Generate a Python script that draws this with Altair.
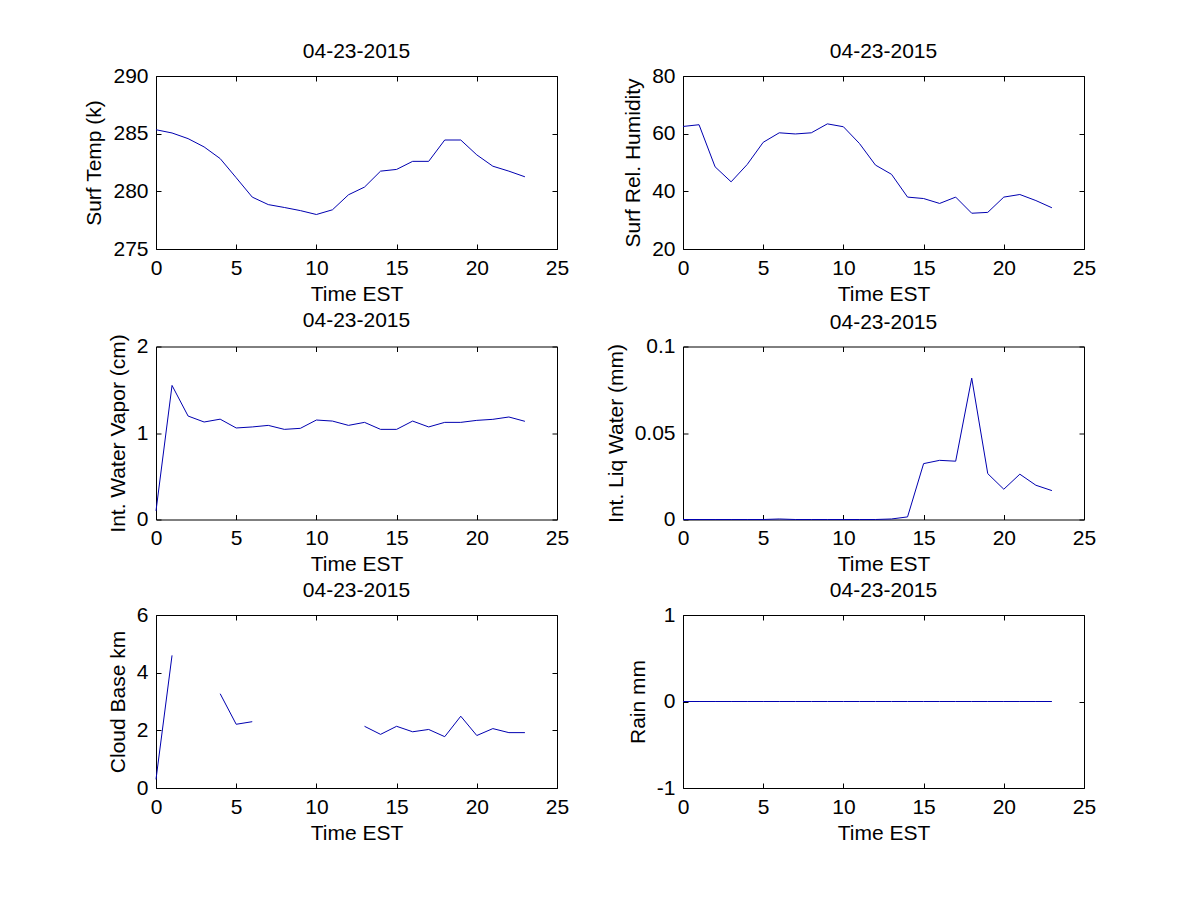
import altair as alt
import pandas as pd

# ---------------- data ----------------
hours = list(range(24))
x_ticks = [0, 5, 10, 15, 20, 25]

surf_temp = [285.34, 285.06, 284.57, 283.85, 282.84, 281.18, 279.5, 278.85,
             278.6, 278.33, 277.99, 278.4, 279.7, 280.37, 281.75, 281.9,
             282.6, 282.6, 284.45, 284.45, 283.16, 282.18, 281.75, 281.26]
surf_rh = [62.5, 63.1, 48.5, 43.3, 49.3, 57.0, 60.3, 59.9, 60.3, 63.4, 62.4,
           56.6, 49.1, 45.9, 38.0, 37.5, 35.8, 38.0, 32.4, 32.7, 38.0, 38.9,
           36.8, 34.3]
water_vapor = [0.1, 1.55, 1.196, 1.127, 1.16, 1.058, 1.07, 1.088, 1.042,
               1.054, 1.15, 1.138, 1.088, 1.123, 1.042, 1.042, 1.138, 1.07,
               1.123, 1.123, 1.146, 1.158, 1.185, 1.135]
liq_water = [0.0, 0.0, 0.0, 0.0, 0.0, 0.0, 0.0003, 0.0, 0.0, 0.0, 0.0, 0.0,
             0.0, 0.0003, 0.0015, 0.0323, 0.0342, 0.0337, 0.0817, 0.0265,
             0.0175, 0.0262, 0.0198, 0.0167]
cloud_base = [0.3, 4.6, None, None, 3.27, 2.21, 2.3, None, None, None, None,
              None, None, 2.14, 1.86, 2.14, 1.95, 2.03, 1.78, 2.49, 1.82,
              2.06, 1.92, 1.92]
rain = [0, 0, 0, 0, 0, 0, 0, 0, 0, 0, 0, 0, 0, 0, 0, 0, 0, 0, 0, 0, 0, 0, 0, 0]

date_title = "04-23-2015"
x_title = "Time EST"

panels = [
    (surf_temp, "Surf Temp (k)", [275, 290], [275, 280, 285, 290]),
    (surf_rh, "Surf Rel. Humidity", [20, 80], [20, 40, 60, 80]),
    (water_vapor, "Int. Water Vapor (cm)", [0, 2], [0, 1, 2]),
    (liq_water, "Int. Liq Water (mm)", [0, 0.1], [0, 0.05, 0.1]),
    (cloud_base, "Cloud Base km", [0, 6], [0, 2, 4, 6]),
    (rain, "Rain mm", [-1, 1], [-1, 0, 1]),
]

# ---------------- style ----------------
FONT = "Liberation Sans"
FS = 21
TICK = 5
W, H = 401, 173
LINE_COLOR = "#0000b0"
LBL = "datum.value + ''"


def make_panel(values, ytitle, ydomain, yticks):
    df = pd.DataFrame({"hour": hours, "value": values})
    df["seg"] = df["value"].isna().cumsum()
    df = df.dropna()

    xs = alt.Scale(domain=[0, 25], nice=False, zero=False)
    ys = alt.Scale(domain=ydomain, nice=False, zero=False)

    main = alt.Chart(df).mark_line(color=LINE_COLOR, strokeWidth=1).encode(
        x=alt.X("hour:Q", scale=xs, axis=alt.Axis(
            orient="bottom", values=x_ticks, title=x_title, offset=-TICK,
            tickSize=TICK, labelPadding=8, titlePadding=5, labelFlush=False,
            labelOverlap=False, labelExpr=LBL)),
        y=alt.Y("value:Q", scale=ys, axis=alt.Axis(
            orient="left", values=yticks, title=ytitle, offset=-TICK,
            tickSize=TICK, labelPadding=8, titlePadding=8, labelFlush=False,
            labelOverlap=False, labelExpr=LBL)),
        detail="seg:N",
    )
    mirror = alt.Chart(df).mark_line(opacity=0).encode(
        x=alt.X("hour:Q", scale=xs, axis=alt.Axis(
            orient="top", values=x_ticks, title=None, labels=False,
            offset=-TICK, tickSize=TICK)),
        y=alt.Y("value:Q", scale=ys, axis=alt.Axis(
            orient="right", values=yticks, title=None, labels=False,
            offset=-TICK, tickSize=TICK)),
        detail="seg:N",
    )
    return alt.layer(main, mirror).resolve_axis(
        x="independent", y="independent"
    ).properties(width=W, height=H, title=date_title)


charts = [make_panel(*p) for p in panels]

chart = alt.concat(*charts, columns=2, spacing={"row": 3.5, "column": 34}).properties(
    padding={"left": 75, "top": 32, "right": 5, "bottom": 5},
    background="white",
).configure_view(
    stroke="black", strokeWidth=1
).configure_axis(
    grid=False, domain=False, tickColor="black", tickWidth=1,
    labelFont=FONT, labelFontSize=FS, labelColor="black",
    titleFont=FONT, titleFontSize=FS, titleColor="black",
    titleFontWeight="normal",
).configure_title(
    font=FONT, fontSize=FS, fontWeight="normal", color="black",
    anchor="middle", offset=3, baseline="alphabetic",
)

chart.save("out.html", embed_options={"renderer": "svg", "actions": False})
